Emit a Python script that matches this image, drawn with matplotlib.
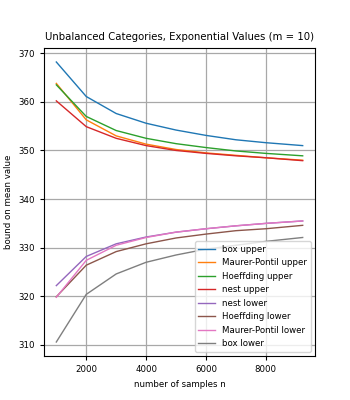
import matplotlib
matplotlib.use("Agg")
import matplotlib.pyplot as plt

n = [1000, 2000, 3000, 4000, 5000, 6000, 7000, 8000, 9230]

box_upper = [368.2, 361.1, 357.6, 355.6, 354.2, 353.1, 352.2, 351.6, 351.0]
mp_upper = [363.8, 356.3, 353.0, 351.3, 350.2, 349.5, 349.0, 348.5, 348.0]
hoeffding_upper = [363.5, 357.0, 354.1, 352.5, 351.4, 350.6, 349.9, 349.4, 348.9]
nest_upper = [360.2, 354.9, 352.5, 351.0, 350.0, 349.4, 348.9, 348.5, 347.9]
nest_lower = [322.2, 328.2, 330.8, 332.2, 333.2, 333.9, 334.5, 335.0, 335.5]
hoeffding_lower = [319.9, 326.4, 329.2, 330.8, 332.0, 332.8, 333.5, 333.9, 334.6]
mp_lower = [319.8, 327.4, 330.5, 332.1, 333.2, 333.9, 334.5, 335.0, 335.5]
box_lower = [310.6, 320.4, 324.6, 327.0, 328.5, 329.7, 330.5, 331.3, 332.1]

series = [
    ("box upper", box_upper),
    ("Maurer-Pontil upper", mp_upper),
    ("Hoeffding upper", hoeffding_upper),
    ("nest upper", nest_upper),
    ("nest lower", nest_lower),
    ("Hoeffding lower", hoeffding_lower),
    ("Maurer-Pontil lower", mp_lower),
    ("box lower", box_lower),
]


def main():
    fig = plt.figure(figsize=(3.5, 4), dpi=100)
    ax = fig.add_axes([44 / 350, 44 / 400, 271 / 350, 308 / 400])
    for label, vals in series:
        ax.plot(n, vals, label=label, linewidth=1)
    ax.set_title("Unbalanced Categories, Exponential Values (m = 10)", fontsize=7.3)
    ax.set_xlabel("number of samples n", fontsize=6.2)
    ax.set_ylabel("bound on mean value", fontsize=6.2)
    ax.tick_params(labelsize=6.2, length=3)
    ax.set_xticks([2000, 4000, 6000, 8000])
    ax.set_yticks([310, 320, 330, 340, 350, 360, 370])
    ax.grid(True, color="#a8a8a8", linewidth=0.9)
    ax.legend(loc="lower right", fontsize=6.2, handlelength=2.0,
              labelspacing=0.52, borderpad=0.4)
    fig.savefig("out.png", dpi=100)


if __name__ == "__main__":
    main()
